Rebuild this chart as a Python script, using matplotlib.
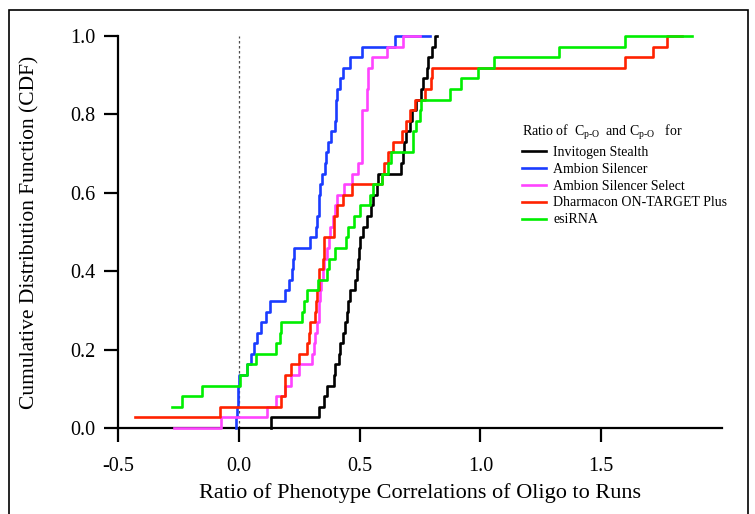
import matplotlib
matplotlib.use('Agg')
import matplotlib.pyplot as plt
from matplotlib.patches import Rectangle

plt.rcParams['font.family'] = ['Liberation Serif', 'DejaVu Serif']
plt.rcParams['mathtext.fontset'] = 'custom'
plt.rcParams['mathtext.rm'] = 'Liberation Serif'
plt.rcParams['mathtext.it'] = 'Liberation Serif:italic'

# step positions (x) and CDF level reached at each step (y)
stealth_x = [0.134, 0.134, 0.331, 0.351, 0.365, 0.392, 0.399, 0.413, 0.418, 0.433,
             0.440, 0.447, 0.454, 0.461, 0.481, 0.488, 0.495, 0.498, 0.502, 0.516,
             0.530, 0.548, 0.557, 0.571, 0.577, 0.670, 0.680, 0.684, 0.690, 0.708,
             0.715, 0.733, 0.756, 0.763, 0.777, 0.783, 0.800, 0.811, 0.820]
stealth_y = [0.0, 0.027, 0.054, 0.081, 0.108, 0.135, 0.162, 0.189, 0.216, 0.243,
             0.270, 0.297, 0.324, 0.351, 0.378, 0.405, 0.432, 0.459, 0.486, 0.514,
             0.541, 0.568, 0.595, 0.622, 0.649, 0.676, 0.703, 0.730, 0.757, 0.784,
             0.811, 0.838, 0.865, 0.892, 0.919, 0.946, 0.973, 1.0, 1.0]

silencer_x = [-0.012, -0.010, -0.008, -0.005, -0.002, 0.001, 0.036, 0.049, 0.063, 0.077,
              0.093, 0.111, 0.129, 0.193, 0.207, 0.221, 0.225, 0.228, 0.296, 0.321,
              0.325, 0.330, 0.334, 0.338, 0.344, 0.358, 0.362, 0.371, 0.381, 0.399,
              0.401, 0.403, 0.405, 0.420, 0.433, 0.461, 0.510, 0.648, 0.790]
silencer_y = [0.0, 0.027, 0.054, 0.081, 0.108, 0.135, 0.162, 0.189, 0.216, 0.243,
              0.270, 0.297, 0.324, 0.351, 0.378, 0.405, 0.432, 0.459, 0.486, 0.514,
              0.541, 0.568, 0.595, 0.622, 0.649, 0.676, 0.703, 0.730, 0.757, 0.784,
              0.811, 0.838, 0.865, 0.892, 0.919, 0.946, 0.973, 1.0, 1.0]

select_x = [-0.269, -0.074, 0.118, 0.152, 0.193, 0.214, 0.248, 0.303, 0.310, 0.317,
            0.324, 0.331, 0.333, 0.335, 0.340, 0.348, 0.354, 0.365, 0.372, 0.379,
            0.390, 0.399, 0.406, 0.436, 0.468, 0.495, 0.509, 0.509, 0.510, 0.510,
            0.511, 0.530, 0.532, 0.534, 0.536, 0.550, 0.612, 0.680, 0.749]
select_y = [0.0, 0.027, 0.054, 0.081, 0.108, 0.135, 0.162, 0.189, 0.216, 0.243,
            0.270, 0.297, 0.324, 0.351, 0.378, 0.405, 0.432, 0.459, 0.486, 0.514,
            0.541, 0.568, 0.595, 0.622, 0.649, 0.676, 0.703, 0.730, 0.757, 0.784,
            0.811, 0.838, 0.865, 0.892, 0.919, 0.946, 0.973, 1.0, 1.0]

dharmacon_x = [-0.428, -0.077, 0.173, 0.190, 0.193, 0.214, 0.248, 0.283, 0.289, 0.296,
               0.317, 0.320, 0.324, 0.331, 0.334, 0.348, 0.351, 0.354, 0.392, 0.395,
               0.406, 0.433, 0.468, 0.591, 0.600, 0.619, 0.639, 0.674, 0.694, 0.708,
               0.728, 0.770, 0.797, 0.798, 1.600, 1.716, 1.771, 1.833]
dharmacon_y = [0.027, 0.054, 0.081, 0.108, 0.135, 0.162, 0.189, 0.216, 0.243, 0.270,
               0.297, 0.324, 0.351, 0.378, 0.405, 0.432, 0.459, 0.486, 0.514, 0.541,
               0.568, 0.595, 0.622, 0.649, 0.676, 0.703, 0.730, 0.757, 0.784, 0.811,
               0.838, 0.865, 0.892, 0.919, 0.946, 0.973, 1.0, 1.0]

esirna_x = [-0.277, -0.236, -0.154, 0.003, 0.036, 0.070, 0.152, 0.171, 0.173, 0.262,
            0.269, 0.283, 0.328, 0.365, 0.372, 0.399, 0.445, 0.454, 0.475, 0.502,
            0.543, 0.557, 0.591, 0.619, 0.628, 0.720, 0.722, 0.735, 0.749, 0.756,
            0.875, 0.920, 0.989, 1.058, 1.325, 1.600, 1.874]
esirna_y = [0.054, 0.081, 0.108, 0.135, 0.162, 0.189, 0.216, 0.243, 0.270, 0.297,
            0.324, 0.351, 0.378, 0.405, 0.432, 0.459, 0.486, 0.514, 0.541, 0.568,
            0.595, 0.622, 0.649, 0.676, 0.703, 0.730, 0.757, 0.784, 0.811, 0.838,
            0.865, 0.892, 0.919, 0.946, 0.973, 1.0, 1.0]

labels = ['Invitogen Stealth', 'Ambion Silencer', 'Ambion Silencer Select',
          'Dharmacon ON-TARGET Plus', 'esiRNA']
colors = ['#000000', '#1a3cff', '#ff44ff', '#ff2200', '#00ee00']

fig = plt.figure(figsize=(7.55, 5.14), dpi=100)
ax = fig.add_axes([118 / 755, 1 - 428 / 514, (722 - 118) / 755, (428 - 36) / 514])

# frame around the whole picture
fig.patches.append(Rectangle((9 / 755, -0.05), (748 - 9) / 755, 1.05 - 10 / 514,
                             transform=fig.transFigure, fill=False, lw=1.2, color='black'))

ax.axvline(0, color='0.3', lw=0.9, linestyle=(0, (2, 2)), zorder=1)

series = [(stealth_x, stealth_y), (silencer_x, silencer_y), (select_x, select_y),
          (dharmacon_x, dharmacon_y), (esirna_x, esirna_y)]
for (xs, ys), lab, col in zip(series, labels, colors):
    ax.step(xs, ys, where='post', color=col, lw=1.9, label=lab, clip_on=False, zorder=3)

ax.set_xlim(-0.5, 2.0)
ax.set_ylim(0, 1.0)
ax.set_xticks([-0.5, 0.0, 0.5, 1.0, 1.5])
ax.set_yticks([0.0, 0.2, 0.4, 0.6, 0.8, 1.0])
ax.xaxis.set_major_formatter(matplotlib.ticker.FormatStrFormatter('%.1f'))
ax.yaxis.set_major_formatter(matplotlib.ticker.FormatStrFormatter('%.1f'))
ax.tick_params(direction='out', length=10, width=1.6, labelsize=14.5)
ax.tick_params(axis='x', pad=11)
ax.tick_params(axis='y', pad=6)
for s in ['top', 'right']:
    ax.spines[s].set_visible(False)
for s in ['left', 'bottom']:
    ax.spines[s].set_linewidth(1.6)

ax.set_xlabel('Ratio of Phenotype Correlations of Oligo to Runs', fontsize=16, labelpad=5)
ax.set_ylabel('Cumulative Distribution Function (CDF)', fontsize=15.5, labelpad=22)

leg = ax.legend(loc='upper left', bbox_to_anchor=(515 / 755, 1 - 116 / 514),
                bbox_transform=fig.transFigure, frameon=False, fontsize=10,
                title=r'Ratio of  C$_{\text{p-O}}$  and C$_{\text{p-O}}$   for',
                title_fontsize=10, alignment='left', borderpad=0,
                labelspacing=0.28, handlelength=1.7, handletextpad=0.55)

fig.savefig('out.png', dpi=100)
